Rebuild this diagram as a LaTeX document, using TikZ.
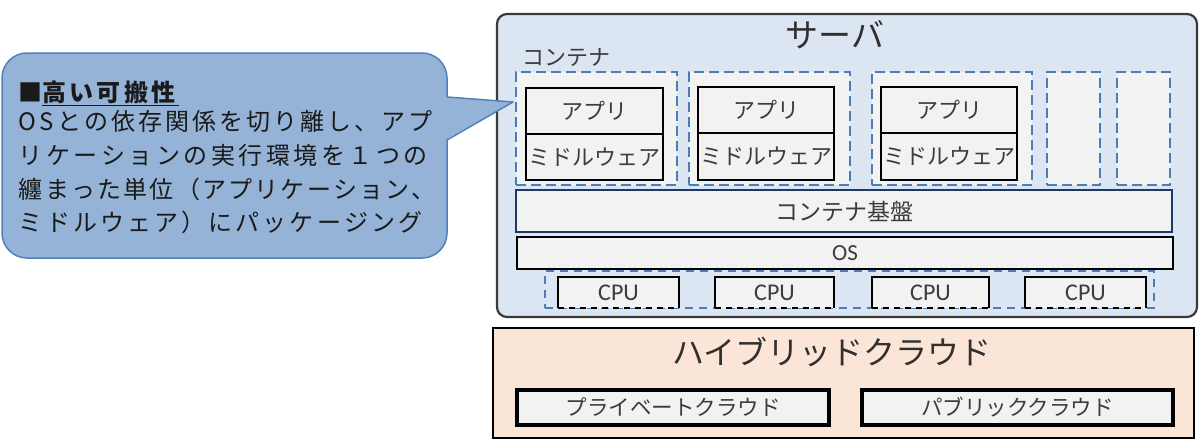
\documentclass[tikz,border=0pt]{standalone}
\usepackage{fontspec}
\setmainfont{Noto Sans CJK JP}
\newfontfamily\latf{Carlito}
\def\spcamt{0pt}
\def\sploop#1{\ifx\relax#1\else#1\kern\spcamt\expandafter\sploop\fi}
\newcommand\spaced[2]{\def\spcamt{#1}\sploop#2\relax}
\definecolor{srvfill}{HTML}{DCE6F2}
\definecolor{srvline}{HTML}{3A3A3A}
\definecolor{boxfill}{HTML}{F2F2F2}
\definecolor{contfill}{HTML}{F3F3F1}
\definecolor{dashblue}{HTML}{4A7EBB}
\definecolor{navyline}{HTML}{1F3864}
\definecolor{hybfill}{HTML}{FBE5D6}
\definecolor{calfill}{HTML}{95B3D7}
\definecolor{calline}{HTML}{4F81BD}
\definecolor{txt}{HTML}{3C3C3C}
\definecolor{ttl}{HTML}{303030}
\definecolor{caltxt}{HTML}{1A1A1A}
\begin{document}
\begin{tikzpicture}[x=1pt,y=-1pt,
  every node/.style={inner sep=0pt, outer sep=0pt},
  srv/.style={anchor=north west, fill=srvfill, draw=srvline, line width=2.2pt, rounded corners=10pt},
  lay/.style={anchor=north west, fill=boxfill, draw=black, line width=2.8pt, text=txt, font=\fontsize{22}{22}\selectfont},
  cont/.style={anchor=north west, fill=contfill, draw=dashblue, line width=2.8pt, dash pattern=on 10pt off 5pt},
  cpureg/.style={anchor=north west, draw=dashblue, line width=1.8pt, dash pattern=on 8pt off 6pt},
  cpubox/.style={anchor=north west, fill=boxfill, text=txt, font=\latf\fontsize{24}{24}\selectfont},
  cpuside/.style={draw=black, line width=2.6pt},
  cpubot/.style={draw=black, line width=2.6pt, dash pattern=on 6pt off 5pt},
  calltext/.style={anchor=base west, text=caltxt, font=\fontsize{24}{24}\selectfont},
  bigtitle/.style={text=ttl}
]
\useasboundingbox (0,0) rectangle (1200,439);
\fill[white] (0,0) rectangle (1200,439);

% server
\node[srv, minimum width=700, minimum height=303] (srv) at (497,14) {};
\node[bigtitle, font=\fontsize{33}{33}\selectfont] (srvt) at (835,35) {サーバ};
\node[text=txt, font=\fontsize{22}{22}\selectfont] (ctl) at (566,58) {コンテナ};

% containers
\node[cont, minimum width=161, minimum height=113] (c1) at (516,72) {};
\node[cont, minimum width=161, minimum height=113] (c2) at (689,72) {};
\node[cont, minimum width=160, minimum height=113] (c3) at (872,72) {};
\node[cont, minimum width=53, minimum height=113] (c4) at (1047,72) {};
\node[cont, minimum width=53, minimum height=113] (c5) at (1117,72) {};

\node[lay, minimum width=137, minimum height=46] (a1) at (526,88) {アプリ};
\node[lay, minimum width=137, minimum height=46] (m1) at (526,134) {ミドルウェア};
\node[lay, minimum width=136, minimum height=46] (a2) at (698,87) {アプリ};
\node[lay, minimum width=136, minimum height=47] (m2) at (698,133) {ミドルウェア};
\node[lay, minimum width=136, minimum height=46] (a3) at (881,87) {アプリ};
\node[lay, minimum width=136, minimum height=47] (m3) at (881,133) {ミドルウェア};

% platform layers
\node[lay, draw=navyline, line width=2.4pt, minimum width=656, minimum height=42, font=\fontsize{23}{23}\selectfont] (base) at (516,190) {コンテナ基盤};
\node[lay, minimum width=656, minimum height=32, font=\latf\fontsize{23}{23}\selectfont] (os) at (517,237) {OS};

% cpus
\node[cpureg, minimum width=609, minimum height=37] (cpus) at (545,271) {};
\foreach \n/\x/\w in {p1/558/121, p2/715/119, p3/872/117, p4/1025/121}{
  \node[cpubox, minimum width=\w, minimum height=31] (\n) at (\x,277) {CPU};
  \draw[cpuside] (\n.south west) -- (\n.north west) -- (\n.north east) -- (\n.south east);
  \draw[cpubot] (\n.south west) -- (\n.south east);
}

% hybrid cloud
\node[anchor=north west, fill=hybfill, draw=black, line width=2.2pt, minimum width=701, minimum height=110] (hyb) at (493,328) {};
\node[bigtitle, font=\fontsize{32}{32}\selectfont] (hybt) at (832,352) {ハイブリッドクラウド};
\node[lay, line width=3.2pt, minimum width=312, minimum height=35, font=\fontsize{21.5}{21.5}\selectfont] (priv) at (517,390) {プライベートクラウド};
\node[lay, line width=3.2pt, minimum width=311, minimum height=35, font=\fontsize{21.5}{21.5}\selectfont] (pub) at (862,390) {パブリッククラウド};

% callout
\node[anchor=north west, fill=calfill, draw=calline, line width=1.5pt, rounded corners=25pt, minimum width=445, minimum height=205] (call) at (2,53) {};
\coordinate (tip) at (513,102);
\coordinate (pb1) at (447,97);
\coordinate (pb2) at (447,140);
\fill[calfill] ([xshift=-2pt]pb1) -- (tip) -- ([xshift=-2pt]pb2) -- cycle;
\draw[calline, line width=1.5pt, line join=round] (pb1) -- (tip) -- (pb2);

\node[calltext] (head) at (18,101) {\bfseries ■\underline{\spaced{3.4pt}{高い可搬性}}};
\node[calltext] (l1) at (19,130) {\spaced{3pt}{OSとの依存関係を切り離し、アプ}};
\node[calltext] (l2) at (19,164) {\spaced{3.5pt}{リケーションの実行環境を１つの}};
\node[calltext] (l3) at (19,198) {\spaced{2.2pt}{纏まった単位（アプリケーション、}};
\node[calltext] (l4) at (19,231) {\spaced{3.1pt}{ミドルウェア）にパッケージング}};
\end{tikzpicture}
\end{document}
